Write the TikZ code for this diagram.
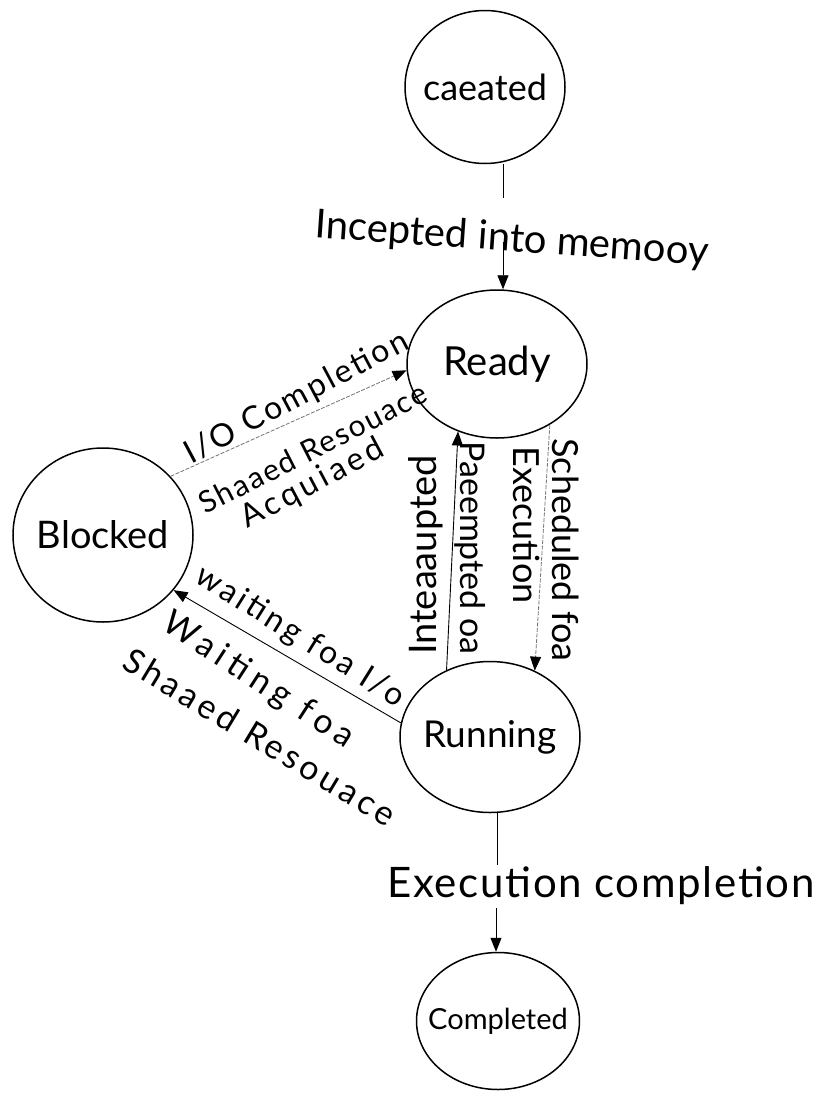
\documentclass[tikz,border=0pt]{standalone}
\usepackage{fontspec}
\setmainfont{Lato}
\usetikzlibrary{arrows.meta,shapes.geometric}
% wider letter spacing for the loosely written labels
\newcommand{\spaced}[2]{{\addfontfeatures{LetterSpace=#1}#2}}
\begin{document}
\begin{tikzpicture}[x=1pt, y=-1pt,
  sz/.style={font=\fontsize{#1}{#1}\selectfont},
  state/.style={draw, ellipse, line width=1.5pt, inner sep=0pt},
  txt/.style={sz=#1, inner sep=0pt},
  link/.style={line width=0.9pt},
  faint/.style={line width=0.8pt, black!55, dash pattern=on 4pt off 1.5pt},
  tip/.style={-{Triangle[length=14pt,width=11pt,color=black]}},
]
\path[use as bounding box] (0,0) rectangle (829,1093);

% states
\node[state, minimum width=160pt, minimum height=153pt,
      label={[sz=36]center:caeated}] (created) at (485,87) {};
\node[state, minimum width=180pt, minimum height=148pt,
      label={[sz=40]center:Ready}] (ready) at (497,364) {};
\node[state, minimum width=180pt, minimum height=174pt,
      label={[sz=38]center:Blocked}] (blocked) at (103,535) {};
\node[state, minimum width=180pt, minimum height=151pt,
      label={[sz=37]center:Running}] (running) at (490,737) {};
\node[state, minimum width=163pt, minimum height=137pt,
      label={[sz=29]center:Completed}] (completed) at (498,1021) {};

% created -> ready, broken by its label
\coordinate (c1) at (503,198);
\coordinate (c2) at (503,242);
\draw[link] (c1 |- created.south) -- (c1);
\draw[link, tip] (c2) -- (c2 |- ready.north);
\node[txt=40, rotate=-4] (incepted) at (512,240) {Incepted into memooy};

% running -> completed, broken by its label
\coordinate (c3) at (497,865);
\coordinate (c4) at (496,908);
\draw[link] (c3 |- running.south) -- (c3);
\draw[link, tip] (c4) -- (c4 |- completed.north);
\node[txt=42] (execdone) at (601,886) {\spaced{4}{Execution completion}};

% blocked -> ready
\draw[faint, tip] (blocked.41) -- (ready.184);
\node[txt=32, rotate=28] (iodone) at (297,398) {\spaced{8}{I/O Completion}};
\node[txt=30, rotate=27] (shacq) at (313,448) {\spaced{6}{Shaaed Resouace}};
\node[txt=32, rotate=28] (acq) at (313,484) {\spaced{12}{Acquiaed}};

% running -> blocked
\draw[link, tip] (running.171) -- (blocked.322);
\node[txt=32, rotate=-32] (waitio) at (300,637) {\spaced{10}{waiting foa I/o}};
\node[txt=34, rotate=-33] (waitsh) at (258,681) {\spaced{18}{Waiting foa}};
\node[txt=34, rotate=-31] (shres) at (260,737) {\spaced{12}{Shaaed Resouace}};

% ready -> running
\draw[faint, tip] (ready.311) -- (running.56);
\node[txt=36, rotate=-90] (exec) at (527,525) {Execution};
\node[txt=36, rotate=-90] (sched) at (566,550) {Scheduled foa};

% running -> ready
\draw[link, tip] (running.123) -- (ready.240);
\node[txt=38, rotate=90] (intr) at (426,555) {Inteaaupted};
\node[txt=34, rotate=-90] (preempt) at (470,548) {Paeempted oa};
\end{tikzpicture}
\end{document}
